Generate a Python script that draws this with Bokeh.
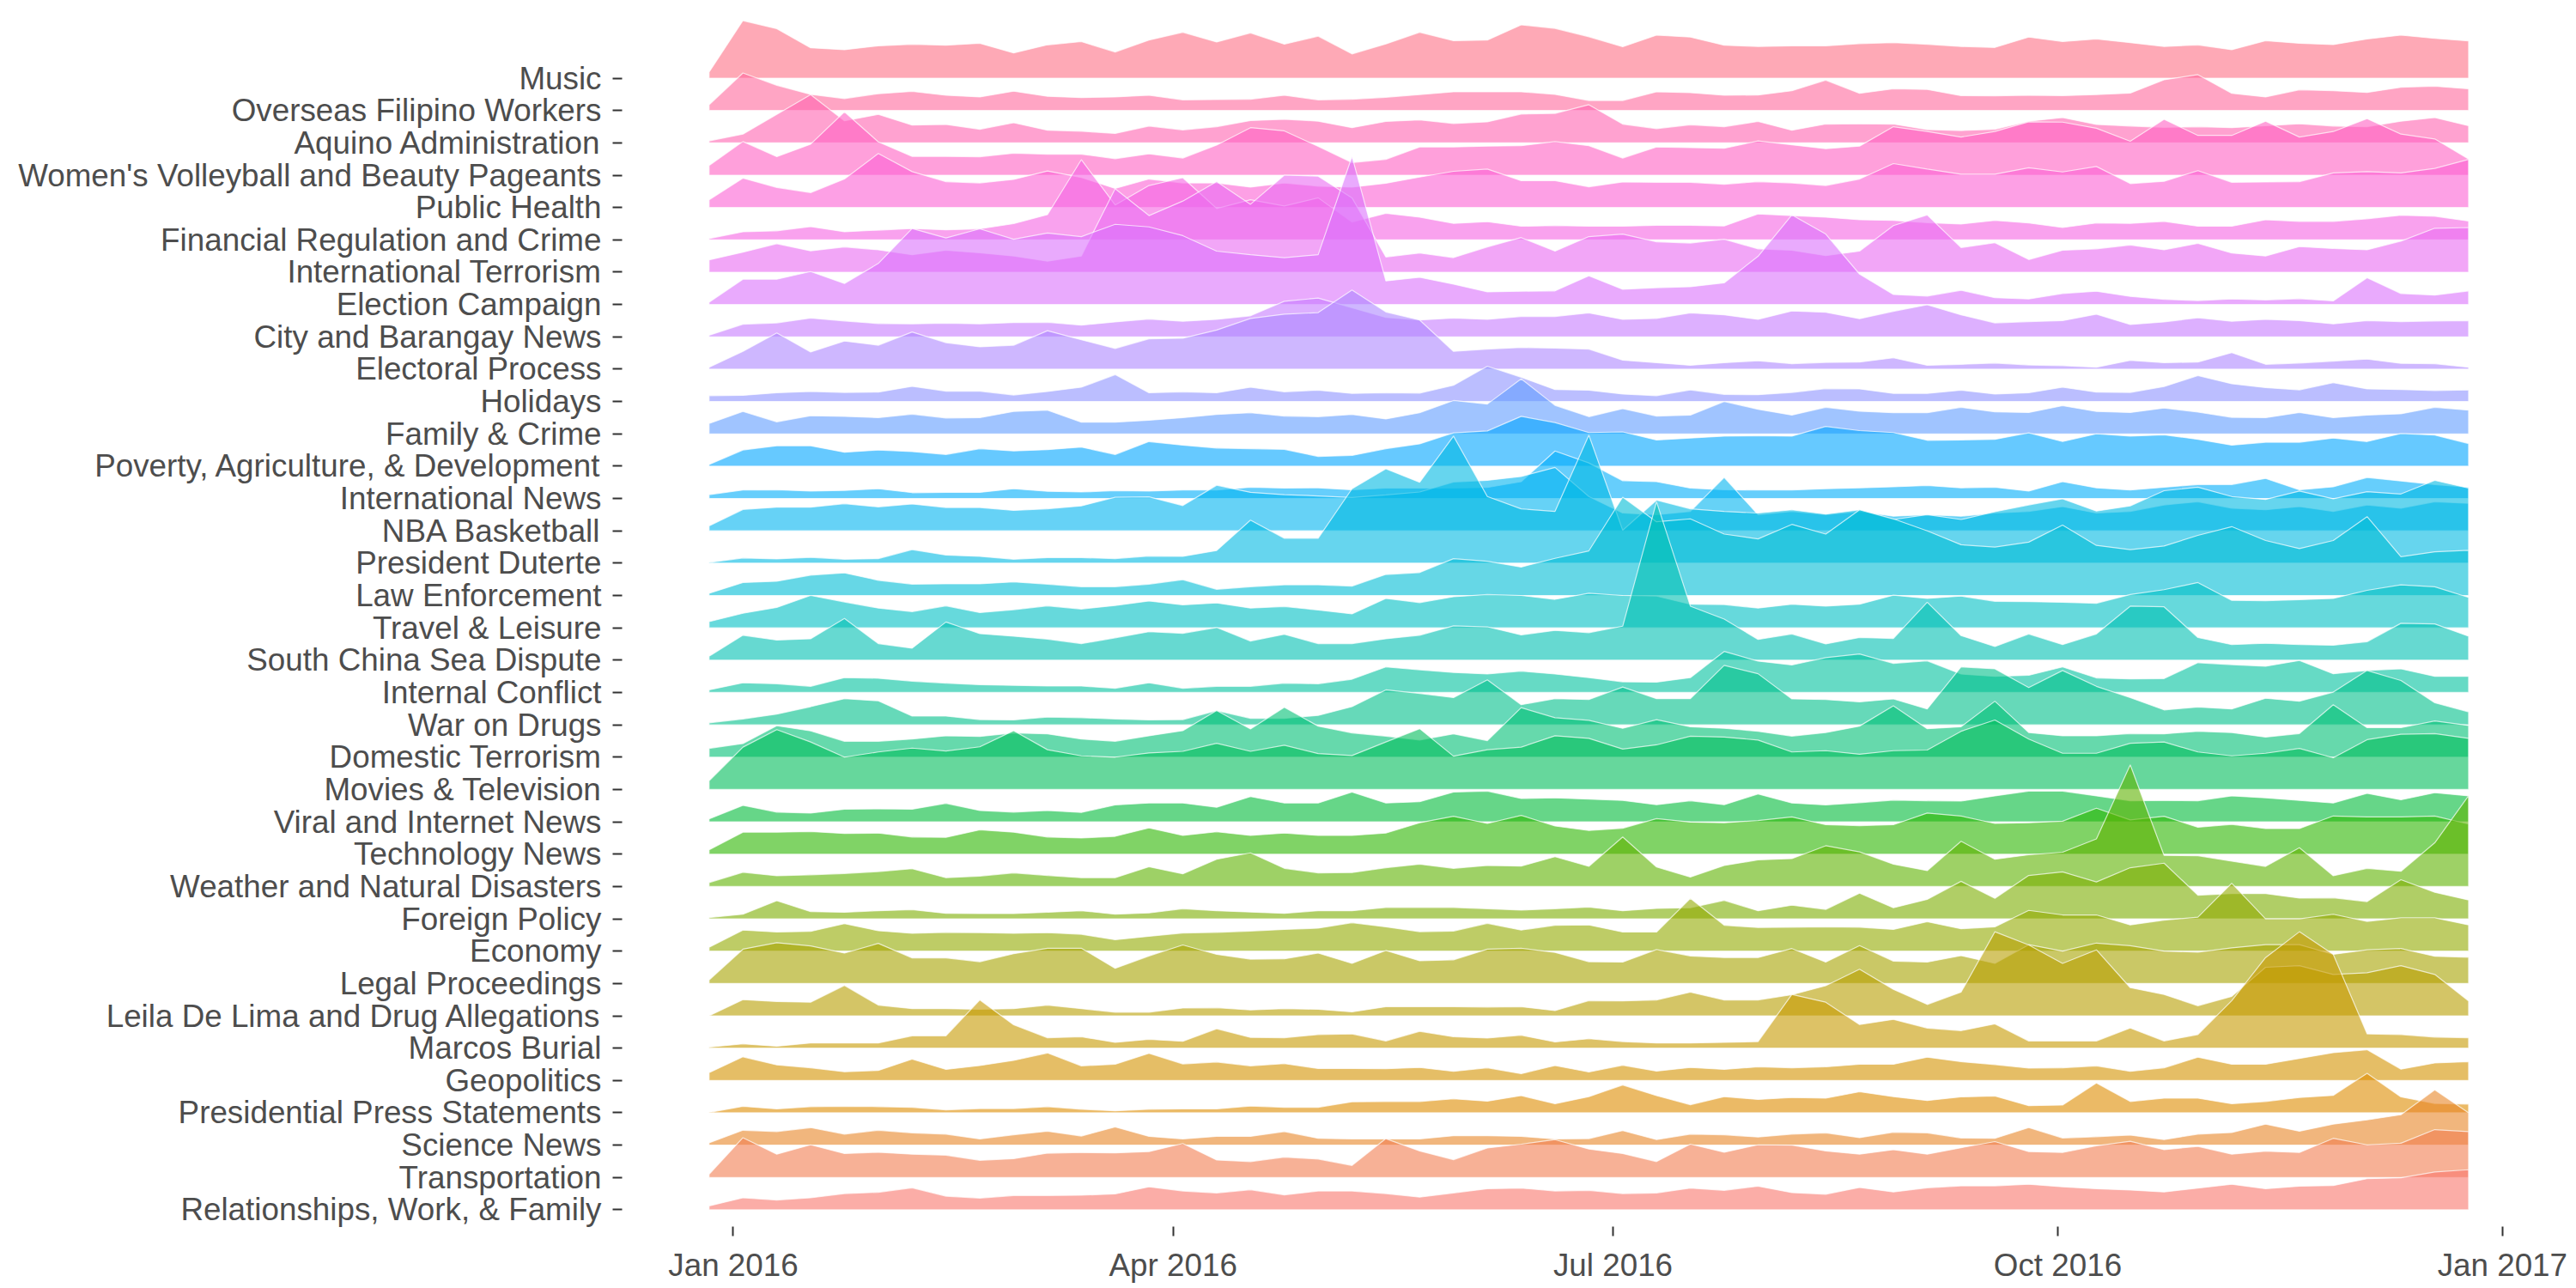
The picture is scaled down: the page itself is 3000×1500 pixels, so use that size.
import math
import datetime as dt
from bokeh.plotting import figure
from bokeh.models import FixedTicker, DatetimeTickFormatter, Range1d
from bokeh.embed import file_html
from bokeh.resources import INLINE

# ---------------- data ----------------
first_week = dt.datetime(2015, 12, 27)
weeks = [first_week + dt.timedelta(days=7 * k) for k in range(53)]

# topics, bottom (first factor level) to top
topics = [
    "Relationships, Work, & Family", "Transportation", "Science News",
    "Presidential Press Statements", "Geopolitics", "Marcos Burial",
    "Leila De Lima and Drug Allegations", "Legal Proceedings", "Economy",
    "Foreign Policy", "Weather and Natural Disasters", "Technology News",
    "Viral and Internet News", "Movies & Television", "Domestic Terrorism",
    "War on Drugs", "Internal Conflict", "South China Sea Dispute",
    "Travel & Leisure", "Law Enforcement", "President Duterte",
    "NBA Basketball", "International News", "Poverty, Agriculture, & Development",
    "Family & Crime", "Holidays", "Electoral Process", "City and Barangay News",
    "Election Campaign", "International Terrorism", "Financial Regulation and Crime",
    "Public Health", "Women's Volleyball and Beauty Pageants",
    "Aquino Administration", "Overseas Filipino Workers", "Music",
]

music = [0.19,1.78,1.53,0.94,0.88,1.0,1.05,1.02,1.08,0.78,1.03,1.13,0.81,1.18,1.42,1.12,1.4,1.05,1.3,0.75,1.06,1.42,1.16,1.18,1.65,1.54,1.28,
         0.97,1.33,1.27,1.02,0.98,1.0,1.0,1.07,1.1,1.05,0.98,0.95,1.27,1.13,1.21,1.1,0.98,1.03,0.88,1.16,1.08,1.04,1.21,1.33,1.23,1.15]
overseas = [0.18,1.16,0.78,0.5,0.37,0.52,0.59,0.47,0.42,0.6,0.44,0.4,0.42,0.47,0.33,0.34,0.35,0.47,0.33,0.35,0.41,0.49,0.58,0.58,0.58,0.5,0.31,
            0.31,0.58,0.55,0.47,0.48,0.61,0.94,0.53,0.67,0.65,0.46,0.45,0.47,0.46,0.49,0.54,0.95,1.11,0.53,0.42,0.64,0.61,0.56,0.72,0.75,0.67]
aquino = [0.06,0.27,0.88,1.49,0.68,0.88,0.55,0.57,0.42,0.62,0.39,0.36,0.29,0.52,0.4,0.5,0.69,0.73,0.67,0.47,0.66,0.71,0.6,0.65,0.89,0.91,1.18,
          0.58,0.44,0.56,0.5,0.66,0.39,0.58,0.59,0.58,0.41,0.38,0.42,0.67,0.78,0.57,0.52,0.48,0.5,0.47,0.53,0.59,0.52,0.5,0.67,0.78,0.53]
volleyball = [0.3,1.04,0.57,0.96,1.96,1.03,0.58,0.58,0.57,0.68,0.65,0.65,0.51,0.66,0.53,0.93,1.47,1.37,0.89,0.39,0.49,0.87,0.87,0.9,0.91,1.04,0.91,
              0.53,0.87,0.85,0.83,1.06,0.94,0.82,0.9,1.5,1.35,1.18,1.35,1.65,1.64,1.45,1.05,1.73,1.23,1.23,1.67,1.18,1.35,1.75,1.27,1.12,0.5]
public_health = [0.24,0.91,0.62,0.46,0.88,1.67,1.11,0.8,0.76,0.87,1.13,0.93,0.59,0.88,0.76,0.76,0.63,0.76,0.66,0.63,0.75,0.94,1.12,1.19,0.83,0.83,0.64,
                 0.79,0.78,0.78,0.72,0.8,0.76,0.68,0.88,1.36,1.19,1.03,1.03,1.23,1.1,1.27,0.74,0.81,1.14,0.78,0.79,0.8,1.07,1.11,1.07,1.21,1.49]
financial = [0.04,0.25,0.28,0.41,0.25,0.3,0.35,0.31,0.34,0.5,0.78,2.48,1.08,1.68,1.92,0.97,1.24,1.05,1.3,0.55,0.82,0.7,0.51,0.56,0.42,0.44,0.42,
             0.42,0.45,0.45,0.43,0.8,0.75,0.7,0.62,0.6,0.53,0.49,0.6,0.52,0.38,0.52,0.51,0.57,0.42,0.42,0.62,0.57,0.57,0.65,0.76,0.73,0.58]
intl_terrorism = [0.38,0.62,0.88,0.66,0.78,0.69,0.54,0.68,0.6,0.5,0.34,0.5,2.58,1.75,2.2,2.8,2.1,3.0,2.97,2.3,0.47,0.59,0.45,0.78,1.07,0.65,1.1,
                  1.18,0.94,0.9,1.02,0.72,0.68,0.51,0.65,1.44,1.77,0.76,0.91,0.39,0.68,0.72,0.84,0.69,0.89,0.59,0.5,0.79,0.73,0.69,0.96,1.36,1.38]
election = [0.07,0.78,0.78,1.02,0.65,1.27,2.35,2.06,2.34,2.02,2.21,2.1,2.48,2.4,2.13,1.65,1.54,1.45,1.54,4.58,0.73,0.84,0.63,0.39,0.41,0.42,0.89,
            0.47,0.52,0.55,0.67,1.49,2.77,2.18,0.94,0.31,0.26,0.44,0.21,0.17,0.34,0.41,0.25,0.16,0.12,0.17,0.14,0.18,0.11,0.83,0.34,0.29,0.42]
city_barangay = [0.05,0.39,0.43,0.58,0.49,0.41,0.4,0.42,0.4,0.44,0.45,0.36,0.46,0.55,0.48,0.54,0.65,1.1,1.2,0.9,0.6,0.52,0.58,0.54,0.63,0.63,0.74,
                 0.54,0.57,0.74,0.68,0.54,0.8,0.76,0.56,0.79,0.99,0.68,0.43,0.47,0.5,0.7,0.38,0.46,0.59,0.48,0.54,0.5,0.4,0.5,0.47,0.49,0.5]
electoral = [0.06,0.55,1.12,0.53,0.87,0.74,1.15,0.82,0.69,0.74,1.19,0.91,0.64,0.94,0.96,1.21,1.57,1.7,1.75,2.45,1.77,1.52,0.55,0.62,0.67,0.65,0.62,
             0.28,0.2,0.12,0.2,0.26,0.17,0.21,0.22,0.35,0.12,0.15,0.19,0.13,0.11,0.06,0.27,0.2,0.22,0.51,0.15,0.19,0.25,0.31,0.18,0.17,0.06]
holidays = [0.18,0.19,0.27,0.31,0.28,0.29,0.47,0.32,0.32,0.2,0.31,0.44,0.83,0.27,0.3,0.27,0.44,0.3,0.35,0.25,0.27,0.26,0.5,1.09,0.75,0.37,0.35,
            0.23,0.18,0.36,0.22,0.21,0.28,0.4,0.39,0.25,0.25,0.35,0.23,0.27,0.44,0.29,0.28,0.46,0.8,0.55,0.43,0.36,0.58,0.39,0.37,0.34,0.36]
family_crime = [0.32,0.69,0.37,0.56,0.54,0.5,0.61,0.49,0.5,0.69,0.73,0.36,0.36,0.42,0.5,0.6,0.65,0.55,0.53,0.6,0.46,0.65,1.03,0.92,1.7,0.88,0.53,
                0.78,0.55,0.58,1.0,0.76,0.58,0.82,0.7,0.65,0.65,0.82,0.68,0.66,0.87,0.69,0.66,0.8,0.67,0.51,0.5,0.66,0.5,0.58,0.62,0.82,0.73]
poverty = [0.05,0.5,0.63,0.63,0.43,0.5,0.45,0.36,0.54,0.47,0.51,0.59,0.36,0.76,0.65,0.56,0.54,0.52,0.3,0.33,0.54,0.69,1.03,1.09,1.54,1.35,1.04,
           1.06,0.81,0.87,0.93,0.94,0.93,1.23,1.1,1.04,0.8,0.81,0.83,1.03,0.76,1.0,0.93,0.97,0.83,0.65,0.74,0.74,0.87,0.76,1.01,0.96,0.7]
intl_news = [0.12,0.26,0.27,0.23,0.25,0.3,0.18,0.19,0.19,0.3,0.22,0.2,0.24,0.23,0.26,0.26,0.35,0.32,0.33,0.27,0.32,0.32,0.32,0.34,0.52,1.47,1.1,
             0.55,0.52,0.32,0.27,0.26,0.26,0.3,0.33,0.36,0.4,0.33,0.35,0.23,0.52,0.33,0.26,0.35,0.43,0.43,0.62,0.27,0.36,0.65,0.54,0.43,0.35]
nba = [0.15,0.66,0.73,0.73,0.84,0.74,0.83,0.72,0.72,0.63,0.68,0.77,1.04,1.05,0.78,1.41,1.19,1.12,1.08,1.03,1.11,1.2,1.51,1.56,1.68,1.96,1.06,
       0.55,0.5,0.6,1.65,0.5,0.6,0.5,0.6,0.45,0.5,0.45,0.55,0.6,0.75,0.55,0.6,0.8,0.9,0.7,0.65,0.75,0.6,0.8,0.7,0.9,0.85]
duterte = [0.02,0.16,0.13,0.18,0.12,0.14,0.42,0.25,0.21,0.12,0.17,0.17,0.14,0.22,0.21,0.39,1.33,0.77,0.77,2.3,2.92,2.5,3.93,2.06,1.68,1.6,3.96,
           1.02,1.95,1.68,1.6,1.55,1.65,1.52,1.65,1.35,1.5,1.35,1.59,1.8,1.99,1.61,1.77,2.24,2.35,2.06,1.97,2.23,1.99,2.21,2.14,2.56,2.32]
law_enforcement = [0.07,0.4,0.44,0.63,0.7,0.47,0.35,0.36,0.36,0.42,0.35,0.27,0.27,0.35,0.49,0.19,0.27,0.33,0.33,0.29,0.65,0.71,1.14,1.06,0.88,1.15,1.38,
                   3.04,2.28,2.37,1.9,1.75,2.2,1.9,2.65,2.37,2.0,1.57,1.5,1.65,2.18,1.55,1.42,1.53,1.86,2.13,1.7,1.45,1.7,2.44,1.2,1.35,1.4]
travel = [0.19,0.45,0.63,1.0,0.8,0.61,0.5,0.68,0.47,0.56,0.68,0.58,0.69,0.83,0.71,0.77,0.61,0.66,0.55,0.43,0.91,0.78,0.96,1.03,1.0,0.88,1.07,
          1.0,0.98,0.73,0.72,0.61,0.73,0.67,0.73,1.01,0.91,0.98,0.82,0.81,0.79,0.76,1.03,1.18,1.4,0.85,0.84,0.87,0.91,1.16,1.33,1.27,0.94]
south_china_sea = [0.12,0.77,0.62,0.66,1.29,0.51,0.37,1.18,0.82,0.74,0.65,0.51,0.69,0.88,0.83,1.01,0.59,0.8,0.51,0.51,0.66,0.77,1.06,1.03,0.78,0.92,0.85,
                   1.05,4.9,1.67,1.27,0.64,0.81,0.5,0.7,0.67,1.79,0.76,0.42,0.81,0.48,0.81,1.67,1.65,0.7,0.48,0.52,0.48,0.46,0.57,1.14,1.12,0.74]
internal_conflict = [0.08,0.3,0.27,0.19,0.46,0.44,0.35,0.29,0.24,0.22,0.2,0.2,0.13,0.3,0.13,0.19,0.19,0.29,0.27,0.41,0.79,0.7,0.62,0.57,0.66,0.57,0.46,
                     0.33,0.32,0.46,1.27,0.97,0.85,1.08,1.19,0.9,0.98,0.57,0.5,0.53,0.79,0.45,0.42,0.43,0.92,0.86,0.81,0.99,0.58,0.68,0.73,0.5,0.5]
war_on_drugs = [0.06,0.18,0.33,0.56,0.81,0.74,0.27,0.27,0.16,0.15,0.24,0.22,0.18,0.15,0.16,0.44,0.2,0.2,0.29,0.56,1.08,0.97,0.84,1.39,0.62,0.81,0.78,
                1.17,0.81,0.81,1.84,1.58,0.8,0.78,0.71,0.8,0.49,1.79,1.73,1.15,1.68,1.19,0.84,0.46,0.55,0.49,0.82,0.73,1.01,1.68,1.37,0.68,0.4]
domestic_terrorism = [0.27,0.42,0.97,0.81,0.49,0.49,0.56,0.66,0.64,0.75,0.72,0.56,0.49,0.66,0.82,1.44,0.87,1.54,0.96,0.75,0.65,0.53,0.72,0.51,1.53,1.22,1.14,
                      0.89,1.16,0.94,0.89,0.8,0.65,0.76,0.96,1.59,0.88,0.94,1.73,0.76,0.66,0.66,0.73,0.72,0.8,0.76,0.62,0.73,1.62,0.91,0.91,1.12,0.98]
movies_tv = [0.27,1.31,1.85,1.47,1.0,1.16,1.28,1.19,1.32,1.82,1.23,1.04,1.0,1.13,1.18,1.43,1.18,1.37,1.11,1.05,1.47,1.88,1.03,1.23,1.31,1.66,1.58,
             1.25,1.38,1.65,1.62,1.53,1.16,1.2,1.09,1.2,1.22,1.8,2.15,1.56,1.12,1.12,1.43,1.47,1.16,1.04,1.12,1.27,0.98,1.54,1.71,1.73,1.58]
viral = [0.09,0.51,0.3,0.27,0.39,0.4,0.39,0.57,0.35,0.3,0.35,0.29,0.52,0.58,0.58,0.45,0.78,0.58,0.58,0.92,0.58,0.62,0.92,0.95,0.72,0.74,0.7,
         0.66,0.53,0.65,0.53,0.86,0.58,0.52,0.59,0.67,0.65,0.64,0.8,0.95,0.95,0.8,0.65,0.66,0.65,0.8,0.74,0.66,0.58,0.88,0.68,0.9,0.8]
technology = [0.13,0.68,0.68,0.7,0.64,0.65,0.53,0.52,0.75,0.68,0.53,0.5,0.55,0.81,0.58,0.69,0.58,0.65,0.58,0.58,0.65,0.97,1.17,0.95,1.2,0.87,0.73,
              0.8,1.1,0.99,0.97,1.04,1.15,0.91,0.88,0.91,1.27,1.18,0.95,0.97,1.02,1.42,1.06,1.17,0.83,0.92,0.79,0.79,1.18,1.15,1.15,1.18,0.93]
weather = [0.12,0.44,0.33,0.36,0.4,0.46,0.55,0.27,0.32,0.42,0.34,0.27,0.27,0.61,0.39,0.84,1.04,0.56,0.42,0.43,0.58,0.69,0.56,0.65,0.63,0.92,0.62,
           1.53,0.6,0.29,0.65,0.82,0.86,1.26,1.07,0.69,0.49,1.4,0.84,0.98,1.06,1.47,3.76,0.96,0.95,0.78,0.62,1.2,0.33,0.56,0.47,1.35,2.81]
foreign_policy = [0.04,0.14,0.56,0.22,0.2,0.25,0.28,0.17,0.16,0.16,0.2,0.25,0.14,0.18,0.31,0.25,0.21,0.17,0.25,0.25,0.35,0.35,0.35,0.31,0.27,0.31,0.36,
                  0.25,0.32,0.34,0.57,0.25,0.42,0.29,0.79,0.34,0.6,1.16,0.63,1.34,1.45,1.14,1.58,1.72,0.73,0.78,0.78,0.64,0.65,0.53,1.21,0.82,0.58]
economy = [0.12,0.65,0.59,0.61,0.85,0.63,0.55,0.58,0.57,0.55,0.57,0.52,0.35,0.46,0.56,0.58,0.62,0.67,0.71,0.88,0.75,0.6,0.62,0.86,0.65,0.8,0.81,
           0.59,0.59,1.63,0.8,0.73,0.74,0.75,0.74,0.67,0.91,0.69,0.75,1.26,1.12,1.12,0.81,0.96,1.05,2.1,1.0,1.0,1.14,0.92,1.03,1.03,0.81]
legal = [0.11,1.06,1.26,1.16,0.94,1.24,0.79,0.79,0.67,0.92,1.09,1.09,0.47,0.85,1.19,0.9,0.75,0.76,0.94,0.62,1.02,0.7,0.73,1.06,1.09,0.96,0.67,
         0.66,1.05,0.85,0.8,0.8,1.08,0.66,1.17,0.69,0.66,0.86,0.62,1.2,1.0,1.25,1.17,1.0,0.97,1.1,1.2,1.2,0.9,1.04,1.08,0.84,0.81]
leila_de_lima = [0.0,0.5,0.44,0.42,0.94,0.33,0.22,0.22,0.2,0.22,0.33,0.22,0.11,0.11,0.24,0.25,0.18,0.22,0.2,0.12,0.28,0.28,0.28,0.27,0.28,0.16,0.47,
                 0.46,0.49,0.73,0.49,0.49,0.65,0.93,1.44,0.82,0.35,0.73,2.6,2.19,1.62,2.04,0.87,0.66,0.31,0.6,1.5,1.55,1.28,1.33,1.55,1.28,0.46]
marcos = [0.03,0.13,0.06,0.16,0.16,0.16,0.38,0.38,1.49,0.72,0.32,0.35,0.18,0.27,0.21,0.6,0.33,0.32,0.42,0.44,0.22,0.52,0.35,0.31,0.4,0.19,0.29,
          0.2,0.16,0.16,0.18,0.2,1.66,1.42,0.73,0.89,0.62,0.54,0.75,0.22,0.22,0.22,0.62,0.22,0.42,1.47,2.8,3.6,2.9,0.44,0.42,0.34,0.32]
geopolitics = [0.24,0.73,0.48,0.39,0.27,0.31,0.66,0.34,0.46,0.62,0.85,0.45,0.5,0.84,0.51,0.57,0.45,0.52,0.37,0.37,0.36,0.4,0.28,0.39,0.21,0.46,0.26,
               0.47,0.29,0.4,0.34,0.42,0.39,0.42,0.5,0.5,0.72,0.58,0.49,0.38,0.39,0.45,0.28,0.39,0.72,0.5,0.5,0.68,0.86,0.95,0.35,0.54,0.58]
press_statements = [0.01,0.2,0.12,0.19,0.2,0.19,0.17,0.09,0.13,0.13,0.19,0.11,0.06,0.11,0.12,0.12,0.21,0.17,0.17,0.34,0.35,0.35,0.43,0.36,0.53,0.28,0.5,
                    0.86,0.53,0.25,0.5,0.41,0.47,0.45,0.65,0.5,0.38,0.49,0.52,0.22,0.24,0.92,0.35,0.45,0.45,0.28,0.35,0.47,0.54,1.22,0.49,0.29,0.27]
science = [0.07,0.46,0.42,0.54,0.34,0.46,0.38,0.34,0.19,0.32,0.43,0.28,0.56,0.27,0.19,0.27,0.27,0.42,0.21,0.19,0.19,0.19,0.29,0.29,0.27,0.19,0.2,
           0.45,0.17,0.34,0.32,0.25,0.34,0.38,0.23,0.4,0.38,0.22,0.21,0.54,0.22,0.26,0.31,0.17,0.34,0.39,0.65,0.43,0.65,0.78,0.94,1.71,1.0]
transportation = [0.1,1.23,0.72,1.01,0.74,0.78,0.72,0.69,0.53,0.58,0.75,0.77,0.76,0.8,1.05,0.54,0.49,0.63,0.57,0.37,1.2,0.82,0.55,0.91,1.03,1.17,0.88,
                  0.74,0.49,1.03,0.78,1.01,1.0,0.82,0.72,0.86,0.72,0.92,1.11,0.8,0.77,0.98,1.12,0.86,0.96,0.72,0.81,0.77,1.21,1.01,1.06,1.48,1.42]
relationships = [0.12,0.37,0.3,0.37,0.5,0.54,0.68,0.42,0.36,0.44,0.44,0.45,0.49,0.71,0.58,0.52,0.62,0.46,0.58,0.58,0.5,0.39,0.52,0.65,0.67,0.58,0.6,
                 0.5,0.52,0.67,0.6,0.73,0.53,0.48,0.69,0.55,0.68,0.74,0.74,0.79,0.71,0.65,0.61,0.55,0.67,0.79,0.65,0.73,0.75,0.96,0.99,1.17,1.24]

series = [relationships, transportation, science, press_statements, geopolitics, marcos,
          leila_de_lima, legal, economy, foreign_policy, weather, technology, viral,
          movies_tv, domestic_terrorism, war_on_drugs, internal_conflict, south_china_sea,
          travel, law_enforcement, duterte, nba, intl_news, poverty, family_crime, holidays,
          electoral, city_barangay, election, intl_terrorism, financial, public_health,
          volleyball, aquino, overseas, music]

for name, s in zip(topics, series):
    assert len(s) == 53, (name, len(s))

x_ticks = [dt.datetime(2016, 1, 1), dt.datetime(2016, 4, 1), dt.datetime(2016, 7, 1),
           dt.datetime(2016, 10, 1), dt.datetime(2017, 1, 1)]

# ---------------- colours: ggplot2 hue palette ----------------
def hcl_hex(h, c=100.0, l=65.0):
    hr = math.radians(h)
    U, V = c * math.cos(hr), c * math.sin(hr)
    Xn, Yn, Zn = 95.047, 100.0, 108.883
    Y = Yn * ((l + 16.0) / 116.0) ** 3
    t = Xn + 15 * Yn + 3 * Zn
    un, vn = 4 * Xn / t, 9 * Yn / t
    up, vp = U / (13 * l) + un, V / (13 * l) + vn
    X = Y * 9 * up / (4 * vp)
    Z = Y * (12 - 3 * up - 20 * vp) / (4 * vp)
    X, Y, Z = X / 100, Y / 100, Z / 100
    r = 3.240479 * X - 1.537150 * Y - 0.498535 * Z
    g = -0.969256 * X + 1.875992 * Y + 0.041556 * Z
    b = 0.055648 * X - 0.204043 * Y + 1.057311 * Z
    def gam(v):
        v = 12.92 * v if v <= 0.0031308 else 1.055 * v ** (1 / 2.4) - 0.055
        return int(round(min(max(v, 0.0), 1.0) * 255))
    return "#%02X%02X%02X" % (gam(r), gam(g), gam(b))

n = len(topics)
colors = [hcl_hex(15 + 360.0 * j / n) for j in range(n)]

# ---------------- layout helpers ----------------
def ms(d):
    return (d - dt.datetime(1970, 1, 1)).total_seconds() * 1000.0

day = 86400000.0
x_start = ms(weeks[0]) - 18.0 * day
x_end = ms(weeks[-1]) + 15.2 * day

p = figure(x_axis_type="datetime", frame_width=2236, frame_height=1415,
           x_range=Range1d(x_start, x_end), y_range=Range1d(-0.52, 37.06),
           output_backend="svg", toolbar_location=None,
           min_border_left=724, min_border_right=36, min_border_top=13, min_border_bottom=64)

xs_week = [ms(d) for d in weeks]
# draw top rows first so lower ridges lie on top
for j in range(n - 1, -1, -1):
    vals = series[j]
    xs = [xs_week[0]] + xs_week + [xs_week[-1]]
    ys = [j] + [j + v for v in vals] + [j]
    p.patch(xs, ys, fill_color=colors[j], fill_alpha=0.6,
            line_color="white", line_alpha=0.7, line_width=1.2)

p.xgrid.visible = False
p.ygrid.visible = False
p.outline_line_color = None
p.background_fill_color = "white"
p.border_fill_color = "white"

p.yaxis.ticker = FixedTicker(ticks=list(range(n)))
p.yaxis.major_label_overrides = {j: topics[j] for j in range(n)}
p.xaxis.ticker = FixedTicker(ticks=[ms(d) for d in x_ticks])
fmt = "%b %Y"
p.xaxis.formatter = DatetimeTickFormatter(milliseconds=fmt, seconds=fmt, minsec=fmt, minutes=fmt,
                                          hourmin=fmt, hours=fmt, days=fmt, months=fmt, years=fmt)

for ax in (p.xaxis, p.yaxis):
    ax.axis_line_color = None
    ax.minor_tick_line_color = None
    ax.major_tick_line_color = "#333333"
    ax.major_tick_line_width = 2
    ax.major_tick_out = 11
    ax.major_tick_in = 0
    ax.major_label_text_font = "Liberation Sans"
    ax.major_label_text_font_size = "36.8px"
    ax.major_label_text_color = "#4D4D4D"
p.yaxis.major_label_standoff = 13
p.xaxis.major_label_standoff = 13

open("out.html", "w").write(file_html(p, INLINE))
